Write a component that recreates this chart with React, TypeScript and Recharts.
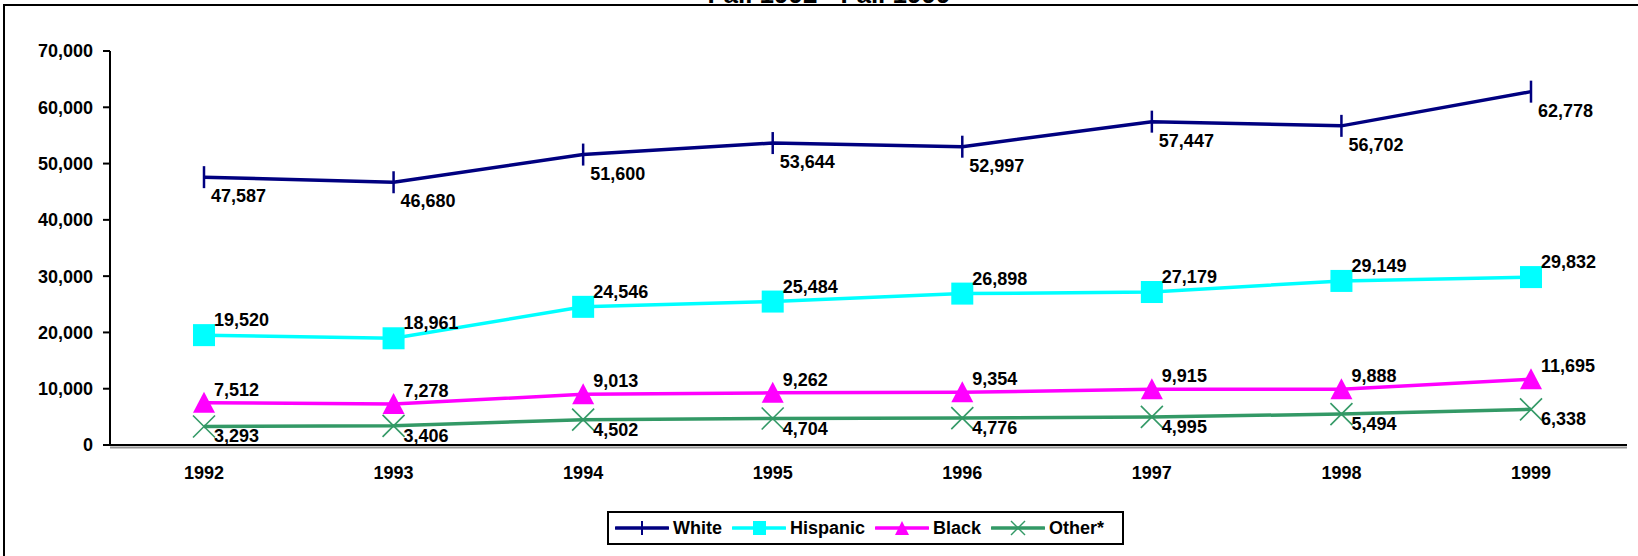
import React from 'react';
import { LineChart, Line, XAxis, YAxis, LabelList, ReferenceLine } from 'recharts';

const years = ['1992', '1993', '1994', '1995', '1996', '1997', '1998', '1999'];
const white = [47587, 46680, 51600, 53644, 52997, 57447, 56702, 62778];
const hispanic = [19520, 18961, 24546, 25484, 26898, 27179, 29149, 29832];
const black = [7512, 7278, 9013, 9262, 9354, 9915, 9888, 11695];
const other = [3293, 3406, 4502, 4704, 4776, 4995, 5494, 6338];
const yTicks = [0, 10000, 20000, 30000, 40000, 50000, 60000, 70000];
const titleText = 'Fall 1992 - Fall 1999';

const data = years.map((y, i) => ({
  year: y,
  White: white[i],
  Hispanic: hispanic[i],
  Black: black[i],
  Other: other[i],
}));

const FONT = '"Liberation Sans", Arial, sans-serif';
const C_WHITE = '#000080';
const C_HISP = '#00FFFF';
const C_BLACK = '#FF00FF';
const C_OTHER = '#339966';
const GRAY = '#969696';

const fmt = (v: number) => Number(v).toLocaleString('en-US');

const makeLabel = (dx: number, dy: number) => (props: any) => {
  const { x, y, value } = props;
  if (x == null || y == null) return null;
  return (
    <text
      x={x + dx}
      y={y + dy}
      fontSize={18}
      fontWeight="bold"
      fill="#000"
      fontFamily={FONT}
    >
      {fmt(value)}
    </text>
  );
};

const WhiteDot = (p: any) => {
  const { cx, cy } = p;
  if (cx == null || cy == null) return <g key={p.index} />;
  return <line key={p.index} x1={cx} x2={cx} y1={cy - 11} y2={cy + 11} stroke={C_WHITE} strokeWidth={2.5} />;
};
const HispDot = (p: any) => {
  const { cx, cy } = p;
  if (cx == null || cy == null) return <g key={p.index} />;
  return <rect key={p.index} x={cx - 11} y={cy - 11} width={22} height={22} fill={C_HISP} />;
};
const BlackDot = (p: any) => {
  const { cx, cy } = p;
  if (cx == null || cy == null) return <g key={p.index} />;
  return (
    <polygon
      key={p.index}
      points={`${cx},${cy - 11} ${cx + 11},${cy + 10} ${cx - 11},${cy + 10}`}
      fill={C_BLACK}
    />
  );
};
const OtherDot = (p: any) => {
  const { cx, cy } = p;
  if (cx == null || cy == null) return <g key={p.index} />;
  return (
    <g key={p.index} stroke={C_OTHER} strokeWidth={1.6}>
      <line x1={cx - 11} y1={cy - 11} x2={cx + 11} y2={cy + 11} />
      <line x1={cx - 11} y1={cy + 11} x2={cx + 11} y2={cy - 11} />
    </g>
  );
};

const AxisShadow = (p: any) => {
  const { x1, x2, y1 } = p;
  if (x1 == null || y1 == null) return <g />;
  return <line x1={x1} x2={x2} y1={y1 + 2.5} y2={y1 + 2.5} stroke={GRAY} strokeWidth={2} />;
};

const legendItems = [
  { name: 'White', color: C_WHITE, kind: 'tick' },
  { name: 'Hispanic', color: C_HISP, kind: 'square' },
  { name: 'Black', color: C_BLACK, kind: 'tri' },
  { name: 'Other*', color: C_OTHER, kind: 'x' },
];

const LegendIcon = ({ kind, color }: { kind: string; color: string }) => {
  const cx = 27;
  const cy = 10;
  let marker: any = null;
  if (kind === 'tick') marker = <line x1={cx} x2={cx} y1={cy - 7} y2={cy + 7} stroke={color} strokeWidth={2} />;
  if (kind === 'square') marker = <rect x={cx - 6} y={cy - 7} width={13} height={14} fill={color} />;
  if (kind === 'tri') marker = <polygon points={`${cx},${cy - 7} ${cx + 7},${cy + 7} ${cx - 7},${cy + 7}`} fill={color} />;
  if (kind === 'x')
    marker = (
      <g stroke={color} strokeWidth={1.5}>
        <line x1={cx - 7} y1={cy - 7} x2={cx + 7} y2={cy + 7} />
        <line x1={cx - 7} y1={cy + 7} x2={cx + 7} y2={cy - 7} />
      </g>
    );
  return (
    <svg width={54} height={20} style={{ display: 'block' }}>
      <line x1={1} x2={53} y1={cy} y2={cy} stroke={color} strokeWidth={3.5} strokeLinecap="round" />
      {marker}
    </svg>
  );
};

export default function App() {
  return (
    <div
      style={{
        position: 'absolute',
        left: 0,
        top: 0,
        width: 1638,
        height: 556,
        overflow: 'hidden',
        background: '#fff',
        fontFamily: FONT,
      }}
    >
      <div
        style={{
          position: 'absolute',
          left: 3,
          top: 4,
          width: 1700,
          height: 600,
          border: '2px solid #000',
          boxSizing: 'border-box',
        }}
      />
      <svg
        width={1638}
        height={10}
        style={{ position: 'absolute', left: 0, top: 0 }}
      >
        <text
          x={829}
          y={3}
          textAnchor="middle"
          fontSize={26}
          fontWeight="bold"
          fontFamily={FONT}
          fill="#000"
        >
          {titleText}
        </text>
      </svg>
      <div style={{ position: 'absolute', left: 0, top: 0 }}>
        <LineChart
          width={1638}
          height={556}
          data={data}
          margin={{ top: 51, right: 11, left: 0, bottom: 71 }}
        >
          <XAxis
            xAxisId="top"
            orientation="top"
            dataKey="year"
            height={0}
            tick={false}
            tickLine={false}
            axisLine={{ stroke: GRAY, strokeWidth: 2 }}
            padding={{ left: 94, right: 96 }}
          />
          <YAxis
            yAxisId="right"
            orientation="right"
            width={0}
            type="number"
            domain={[0, 70000]}
            tick={false}
            tickLine={false}
            axisLine={{ stroke: GRAY, strokeWidth: 2 }}
          />
          <ReferenceLine y={0} stroke={GRAY} shape={AxisShadow} />
          <XAxis
            dataKey="year"
            height={40}
            tickLine={false}
            tickSize={6}
            tickMargin={15}
            axisLine={{ stroke: '#000', strokeWidth: 2 }}
            padding={{ left: 94, right: 96 }}
            tick={{ fill: '#000', fontSize: 18, fontWeight: 'bold', fontFamily: FONT }}
            interval={0}
          />
          <YAxis
            width={110}
            type="number"
            domain={[0, 70000]}
            ticks={yTicks}
            interval={0}
            tickFormatter={fmt}
            tickSize={7}
            tickMargin={10}
            tickLine={{ stroke: '#000', strokeWidth: 2 }}
            axisLine={{ stroke: '#000', strokeWidth: 2 }}
            tick={{ fill: '#000', fontSize: 18, fontWeight: 'bold', fontFamily: FONT }}
          />
          <Line
            dataKey="White"
            stroke={C_WHITE}
            strokeWidth={3.5}
            dot={WhiteDot}
            activeDot={false}
            isAnimationActive={false}
          >
            <LabelList dataKey="White" content={makeLabel(7, 25)} />
          </Line>
          <Line
            dataKey="Hispanic"
            stroke={C_HISP}
            strokeWidth={3.5}
            dot={HispDot}
            activeDot={false}
            isAnimationActive={false}
          >
            <LabelList dataKey="Hispanic" content={makeLabel(10, -9)} />
          </Line>
          <Line
            dataKey="Black"
            stroke={C_BLACK}
            strokeWidth={3.5}
            dot={BlackDot}
            activeDot={false}
            isAnimationActive={false}
          >
            <LabelList dataKey="Black" content={makeLabel(10, -7)} />
          </Line>
          <Line
            dataKey="Other"
            stroke={C_OTHER}
            strokeWidth={3.5}
            dot={OtherDot}
            activeDot={false}
            isAnimationActive={false}
          >
            <LabelList dataKey="Other" content={makeLabel(10, 16)} />
          </Line>
        </LineChart>
      </div>
      <div
        style={{
          position: 'absolute',
          left: 607,
          top: 511,
          width: 517,
          height: 34,
          border: '2px solid #000',
          boxSizing: 'border-box',
          display: 'flex',
          alignItems: 'center',
          paddingLeft: 6,
          background: '#fff',
        }}
      >
        {legendItems.map((it) => (
          <div key={it.name} style={{ display: 'flex', alignItems: 'center', marginRight: 10 }}>
            <LegendIcon kind={it.kind} color={it.color} />
            <span
              style={{
                marginLeft: 4,
                fontSize: 18,
                fontWeight: 'bold',
                fontFamily: FONT,
                color: '#000',
                lineHeight: '20px',
              }}
            >
              {it.name}
            </span>
          </div>
        ))}
      </div>
    </div>
  );
}
